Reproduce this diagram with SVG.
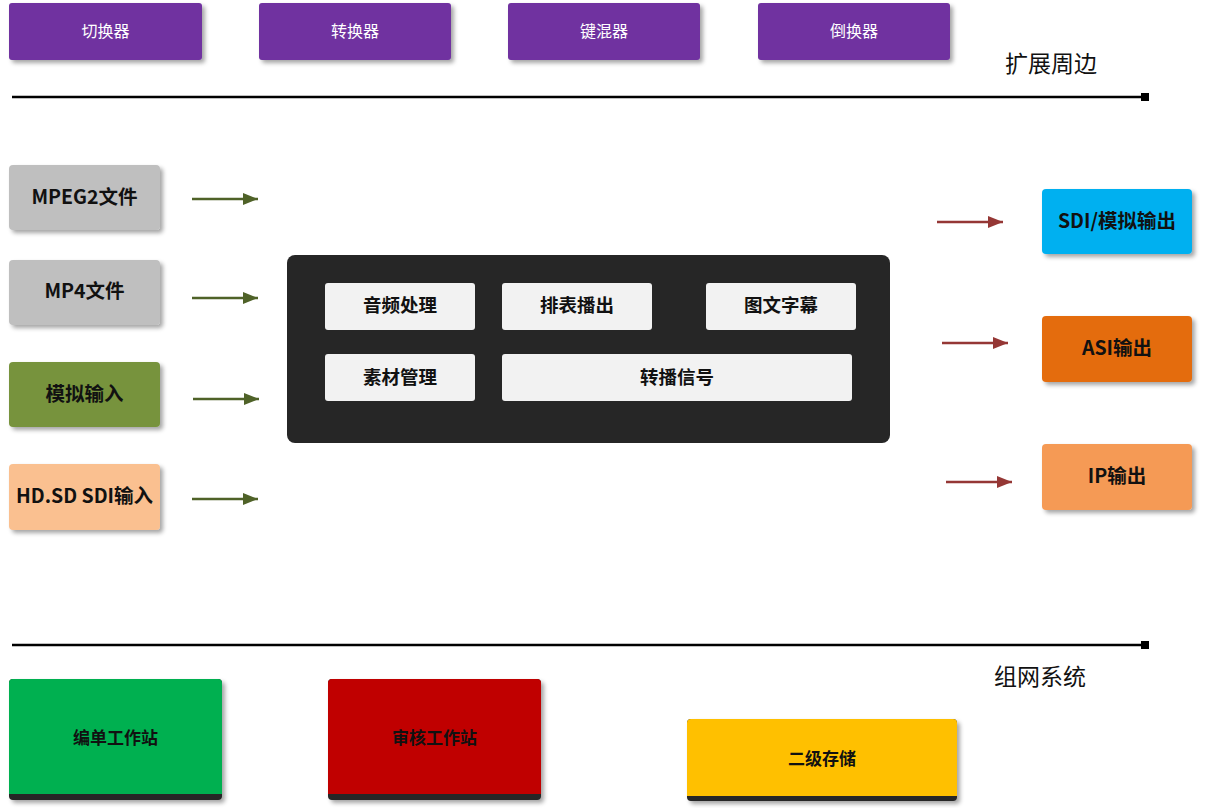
<svg xmlns="http://www.w3.org/2000/svg" width="1210" height="808" viewBox="0 0 1210 808">
<defs>
<filter id="sh" x="-10%" y="-10%" width="130%" height="140%">
<feDropShadow dx="3" dy="3" stdDeviation="2" flood-color="#000" flood-opacity="0.35"/>
</filter>
<marker id="ag" viewBox="0 0 10 10" refX="10" refY="5" markerWidth="7" markerHeight="6" markerUnits="strokeWidth" orient="auto">
<path d="M0,1 L10,5 L0,9 z" fill="#4F6228"/>
</marker>
<marker id="ar" viewBox="0 0 10 10" refX="10" refY="5" markerWidth="7" markerHeight="6" markerUnits="strokeWidth" orient="auto">
<path d="M0,1 L10,5 L0,9 z" fill="#953735"/>
</marker>
<marker id="sq" viewBox="0 0 10 10" refX="5" refY="5" markerWidth="3.5" markerHeight="3.5" markerUnits="strokeWidth">
<rect width="10" height="10" fill="#000"/>
</marker>
</defs>
<style>
text{font-family:"Noto Sans CJK SC","Microsoft YaHei",sans-serif;text-anchor:middle;dominant-baseline:central}
.p{fill:#7030A0}
.pt{fill:#fff;font-size:16px}
.b{font-weight:bold;font-size:19.5px;fill:#111}
.bi{font-weight:bold;font-size:18.5px;fill:#111}
.bs{font-weight:bold;font-size:17px;fill:#111}
.lbl{font-size:23px;fill:#111}
.g{stroke:#4F6228;stroke-width:2.5;fill:none;marker-end:url(#ag)}
.r{stroke:#953735;stroke-width:2.5;fill:none;marker-end:url(#ar)}
.ax{stroke:#000;stroke-width:2.5;fill:none;marker-end:url(#sq)}
.in{fill:#F2F2F2}
</style>
<rect width="1210" height="808" fill="#fff"/>

<g id="top">
<g id="n-qiehuan"><rect class="p" x="9" y="3" width="193" height="57" rx="3" filter="url(#sh)"/><text class="pt" x="105.5" y="29.5">切换器</text></g>
<g id="n-zhuanhuan"><rect class="p" x="259" y="3" width="192" height="57" rx="3" filter="url(#sh)"/><text class="pt" x="355" y="29.5">转换器</text></g>
<g id="n-jianhun"><rect class="p" x="508" y="3" width="192" height="57" rx="3" filter="url(#sh)"/><text class="pt" x="604" y="29.5">键混器</text></g>
<g id="n-daohuan"><rect class="p" x="758" y="3" width="192" height="57" rx="3" filter="url(#sh)"/><text class="pt" x="854" y="29.5">倒换器</text></g>
<text class="lbl" x="1051" y="62">扩展周边</text>
</g>

<g id="inputs">
<g id="n-mpeg2"><rect x="9" y="165" width="151" height="65" rx="4" fill="#BFBFBF" filter="url(#sh)"/><text class="b" x="84.5" y="195">MPEG2文件</text></g>
<g id="n-mp4"><rect x="9" y="260" width="151" height="65" rx="4" fill="#BFBFBF" filter="url(#sh)"/><text class="b" x="84.5" y="289">MP4文件</text></g>
<g id="n-analog-in"><rect x="9" y="362" width="151" height="65" rx="4" fill="#77933C" filter="url(#sh)"/><text class="b" x="84.5" y="392">模拟输入</text></g>
<g id="n-sdi-in"><rect x="9" y="464" width="151" height="66" rx="4" fill="#FAC090" filter="url(#sh)"/><text class="b" x="84.5" y="494">HD.SD SDI输入</text></g>
</g>

<g id="core">
<rect x="287" y="255" width="603" height="188" rx="8" fill="#262626"/>
<g id="n-audio"><rect class="in" x="325" y="283" width="150" height="47" rx="3"/><text class="bi" x="400" y="304">音频处理</text></g>
<g id="n-schedule"><rect class="in" x="502" y="283" width="150" height="47" rx="3"/><text class="bi" x="577" y="304">排表播出</text></g>
<g id="n-caption"><rect class="in" x="706" y="283" width="150" height="47" rx="3"/><text class="bi" x="781" y="304">图文字幕</text></g>
<g id="n-material"><rect class="in" x="325" y="354" width="150" height="47" rx="3"/><text class="bi" x="400" y="376">素材管理</text></g>
<g id="n-relay"><rect class="in" x="502" y="354" width="350" height="47" rx="3"/><text class="bi" x="677" y="376">转播信号</text></g>
</g>

<g id="outputs">
<g id="n-sdi-out"><rect x="1042" y="189" width="150" height="65" rx="4" fill="#00B0F0" filter="url(#sh)"/><text class="b" x="1117" y="219">SDI/模拟输出</text></g>
<g id="n-asi"><rect x="1042" y="316" width="150" height="66" rx="4" fill="#E46C0A" filter="url(#sh)"/><text class="b" x="1117" y="346">ASI输出</text></g>
<g id="n-ip"><rect x="1042" y="444" width="150" height="66" rx="4" fill="#F59A55" filter="url(#sh)"/><text class="b" x="1117" y="474">IP输出</text></g>
</g>

<g id="connectors">
<line class="ax" x1="12" y1="97" x2="1145" y2="97"/>
<line class="ax" x1="12" y1="645" x2="1145" y2="645"/>
<line class="g" x1="192" y1="199" x2="258" y2="199"/>
<line class="g" x1="192" y1="298" x2="258" y2="298"/>
<line class="g" x1="193" y1="399" x2="259" y2="399"/>
<line class="g" x1="192" y1="499" x2="258" y2="499"/>
<line class="r" x1="937" y1="222" x2="1003" y2="222"/>
<line class="r" x1="942" y1="343" x2="1008" y2="343"/>
<line class="r" x1="946" y1="482" x2="1012" y2="482"/>
</g>

<g id="network">
<text class="lbl" x="1040" y="675">组网系统</text>
<g id="n-edit"><rect x="9" y="679" width="213" height="121" rx="4" fill="#262626" filter="url(#sh)"/><path d="M13,679 H218 Q222,679 222,683 V794 H9 V683 Q9,679 13,679 z" fill="#00B050"/><text class="bs" x="115.5" y="736">编单工作站</text></g>
<g id="n-review"><rect x="328" y="679" width="213" height="121" rx="4" fill="#262626" filter="url(#sh)"/><path d="M332,679 H537 Q541,679 541,683 V794 H328 V683 Q328,679 332,679 z" fill="#C00000"/><text class="bs" x="434.5" y="736">审核工作站</text></g>
<g id="n-storage"><rect x="687" y="719" width="270" height="82" rx="4" fill="#262626" filter="url(#sh)"/><path d="M691,719 H953 Q957,719 957,723 V796 H687 V723 Q687,719 691,719 z" fill="#FFC000"/><text class="bs" x="822" y="757">二级存储</text></g>
</g>
</svg>
